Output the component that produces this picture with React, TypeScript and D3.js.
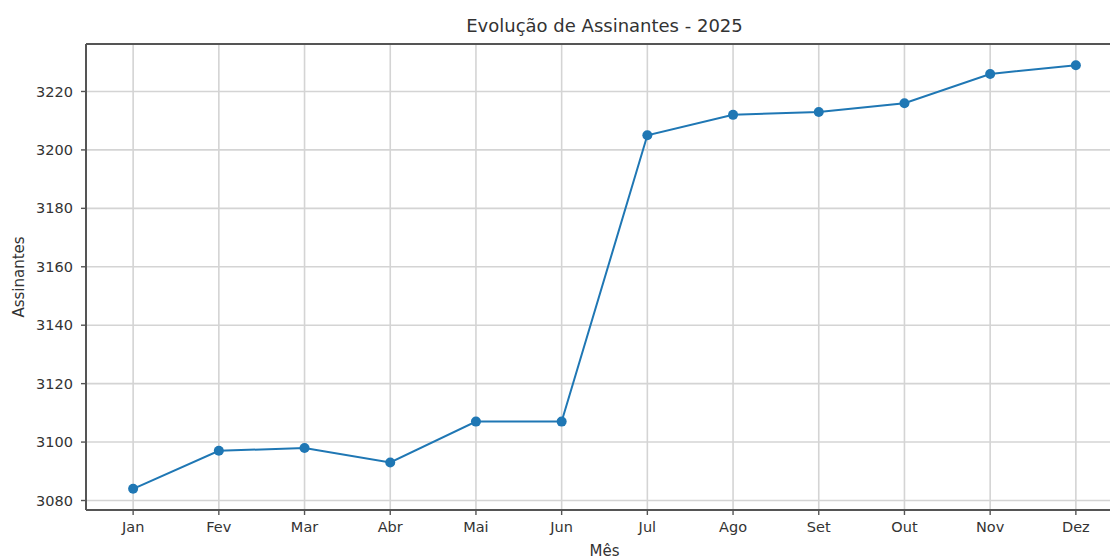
import React from 'react';
import * as d3 from 'd3';

const months = ['Jan', 'Fev', 'Mar', 'Abr', 'Mai', 'Jun', 'Jul', 'Ago', 'Set', 'Out', 'Nov', 'Dez'];
const subscribers = [3084, 3097, 3098, 3093, 3107, 3107, 3205, 3212, 3213, 3216, 3226, 3229];
const yTicks = [3080, 3100, 3120, 3140, 3160, 3180, 3200, 3220];

const WIDTH = 1110;
const HEIGHT = 556;
const FONT = "'DejaVu Sans', sans-serif";

export default function App() {
    // plot area (right edge runs past the picture, like the original crop)
    const margin = { top: 44, left: 86, right: 1123, bottom: 510 };

    // matplotlib-style 5% padding on both axes
    const n = months.length;
    const x = d3.scaleLinear()
        .domain([-0.55, n - 1 + 0.55])
        .range([margin.left, margin.right]);

    const [yMin, yMax] = d3.extent(subscribers) as [number, number];
    const pad = (yMax - yMin) * 0.05;
    const y = d3.scaleLinear()
        .domain([yMin - pad, yMax + pad])
        .range([margin.bottom, margin.top]);

    const line = d3.line<number>()
        .x((_, i) => x(i))
        .y(d => y(d));

    const gridColor = '#d4d4d4';
    const axisColor = '#555';
    const textColor = '#333';
    const tickFont = 14.5;

    return (
        <div style={{ position: 'fixed', top: 0, left: 0, background: '#fff' }}>
            <svg width={WIDTH} height={HEIGHT} style={{ display: 'block' }} fontFamily={FONT}>
                <rect width={WIDTH} height={HEIGHT} fill="#fff" />

                {/* grid */}
                {months.map((_, i) => (
                    <line key={'gx' + i} x1={x(i)} x2={x(i)} y1={margin.top} y2={margin.bottom}
                        stroke={gridColor} strokeWidth={1.6} />
                ))}
                {yTicks.map(t => (
                    <line key={'gy' + t} x1={margin.left} x2={margin.right} y1={y(t)} y2={y(t)}
                        stroke={gridColor} strokeWidth={1.6} />
                ))}

                {/* series */}
                <path d={line(subscribers) || ''} fill="none" stroke="#1f77b4" strokeWidth={2} />
                {subscribers.map((v, i) => (
                    <circle key={'p' + i} cx={x(i)} cy={y(v)} r={5} fill="#1f77b4" />
                ))}

                {/* spines */}
                <line x1={margin.left} x2={margin.right} y1={margin.top} y2={margin.top} stroke={axisColor} strokeWidth={2} />
                <line x1={margin.left} x2={margin.right} y1={margin.bottom} y2={margin.bottom} stroke={axisColor} strokeWidth={2} />
                <line x1={margin.left} x2={margin.left} y1={margin.top} y2={margin.bottom} stroke={axisColor} strokeWidth={2} />

                {/* x ticks */}
                {months.map((m, i) => (
                    <g key={'xt' + m} transform={`translate(${x(i)},${margin.bottom})`}>
                        <line y1={0} y2={5} stroke={axisColor} strokeWidth={1.4} />
                        <text y={21.5} textAnchor="middle" fontSize={tickFont} fill={textColor}>{m}</text>
                    </g>
                ))}

                {/* y ticks */}
                {yTicks.map(t => (
                    <g key={'yt' + t} transform={`translate(${margin.left},${y(t)})`}>
                        <line x1={-5} x2={0} stroke={axisColor} strokeWidth={1.4} />
                        <text x={-13} dy="0.35em" textAnchor="end" fontSize={tickFont} fill={textColor}>{t}</text>
                    </g>
                ))}

                {/* labels */}
                <text x={(margin.left + margin.right) / 2} y={32} textAnchor="middle" fontSize={18} fill={textColor}>
                    Evolução de Assinantes - 2025
                </text>
                <text x={(margin.left + margin.right) / 2} y={556} textAnchor="middle" fontSize={15} fill={textColor}>
                    Mês
                </text>
                <text transform={`translate(24,${(margin.top + margin.bottom) / 2}) rotate(-90)`}
                    textAnchor="middle" fontSize={15} fill={textColor}>
                    Assinantes
                </text>
            </svg>
        </div>
    );
}
